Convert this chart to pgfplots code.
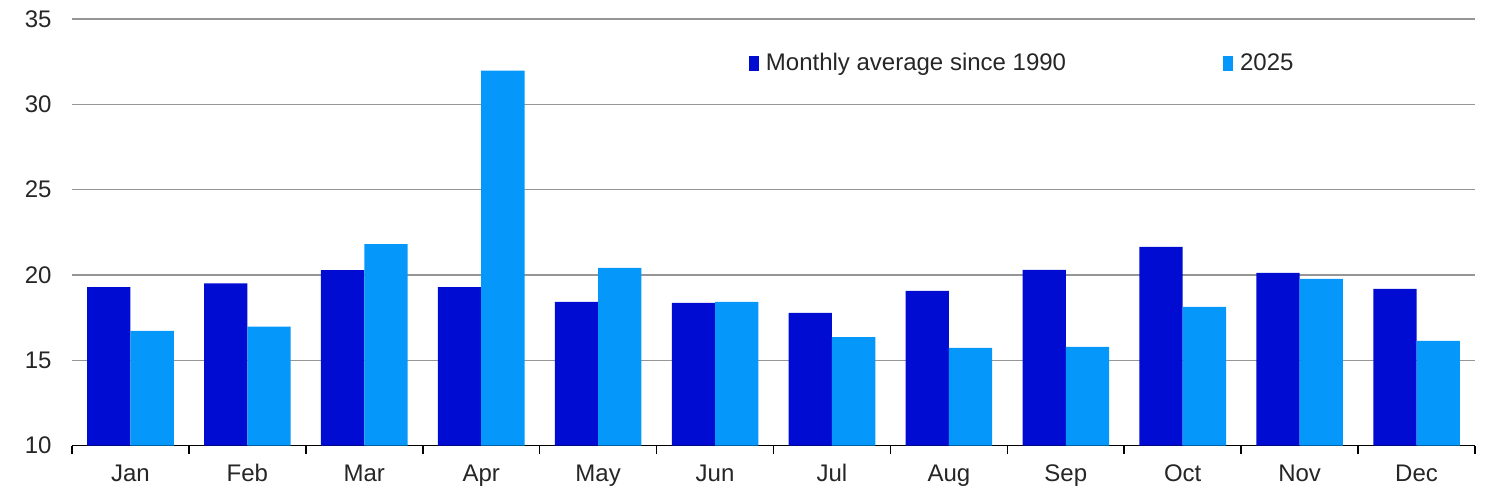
\documentclass[border=0pt]{standalone}
\usepackage{pgfplots}
\pgfplotsset{compat=1.18}
\usepackage{fontspec}
\setmainfont{Liberation Sans}
\definecolor{avgblue}{RGB}{0,12,210}
\definecolor{yrblue}{RGB}{5,152,250}
\definecolor{gridgray}{RGB}{150,150,150}
\begin{document}
\begin{tikzpicture}
\begin{axis}[
  width=701.5pt, height=213.25pt,
  scale only axis,
  ybar=0pt, bar width=21.65pt,
  ymin=10, ymax=35,
  xmin=0.5, xmax=12.5,
  ytick={10,15,20,25,30,35},
  ymajorgrids,
  grid style={gridgray, line width=0.6pt},
  axis x line*=bottom,
  axis y line*=left,
  y axis line style={draw=none},
  x axis line style={black, line width=0.8pt, -},
  xtick={0.5,1.5,...,12.5},
  x tick label as interval,
  xticklabels={Jan,Feb,Mar,Apr,May,Jun,Jul,Aug,Sep,Oct,Nov,Dec},
  major tick length=4pt,
  xtick style={black, line width=0.8pt},
  ytick style={draw=none},
  xtick pos=bottom, xtick align=outside,
  tick label style={font=\fontsize{12}{14}\selectfont, text=black!85},
  /pgf/number format/assume math mode=true,
  xticklabel style={yshift=-2pt},
  yticklabel style={inner sep=0pt, xshift=-10pt},
  legend columns=2,
  legend style={draw=none, fill=none, inner sep=0pt, outer sep=0pt,
    at={(axis description cs:0.4825,0.895)}, anchor=west,
    font=\fontsize{12}{14}\selectfont, text=black!85,
    /tikz/every even column/.append style={column sep=76.5pt},
    /tikz/every odd column/.append style={column sep=1.5pt}},
  legend image code/.code={\fill[#1] (0pt,-3.5pt) rectangle (5pt,4pt);},
]
\addplot[fill=avgblue, draw=none] coordinates {
  (1,19.28) (2,19.51) (3,20.28) (4,19.28) (5,18.42) (6,18.36)
  (7,17.77) (8,19.06) (9,20.29) (10,21.64) (11,20.12) (12,19.18)
};
\addlegendentry{Monthly average since 1990}
\addplot[fill=yrblue, draw=none] coordinates {
  (1,16.72) (2,16.97) (3,21.80) (4,31.97) (5,20.41) (6,18.42)
  (7,16.36) (8,15.72) (9,15.78) (10,18.12) (11,19.77) (12,16.13)
};
\addlegendentry{2025}
\end{axis}
\pgfresetboundingbox
\path (current axis.south west) ++(-36pt,-20.75pt) coordinate (bbA);
\path (current axis.north east) ++(8.5pt,9.5pt) coordinate (bbB);
\useasboundingbox (bbA) rectangle (bbB);
\end{tikzpicture}
\end{document}
